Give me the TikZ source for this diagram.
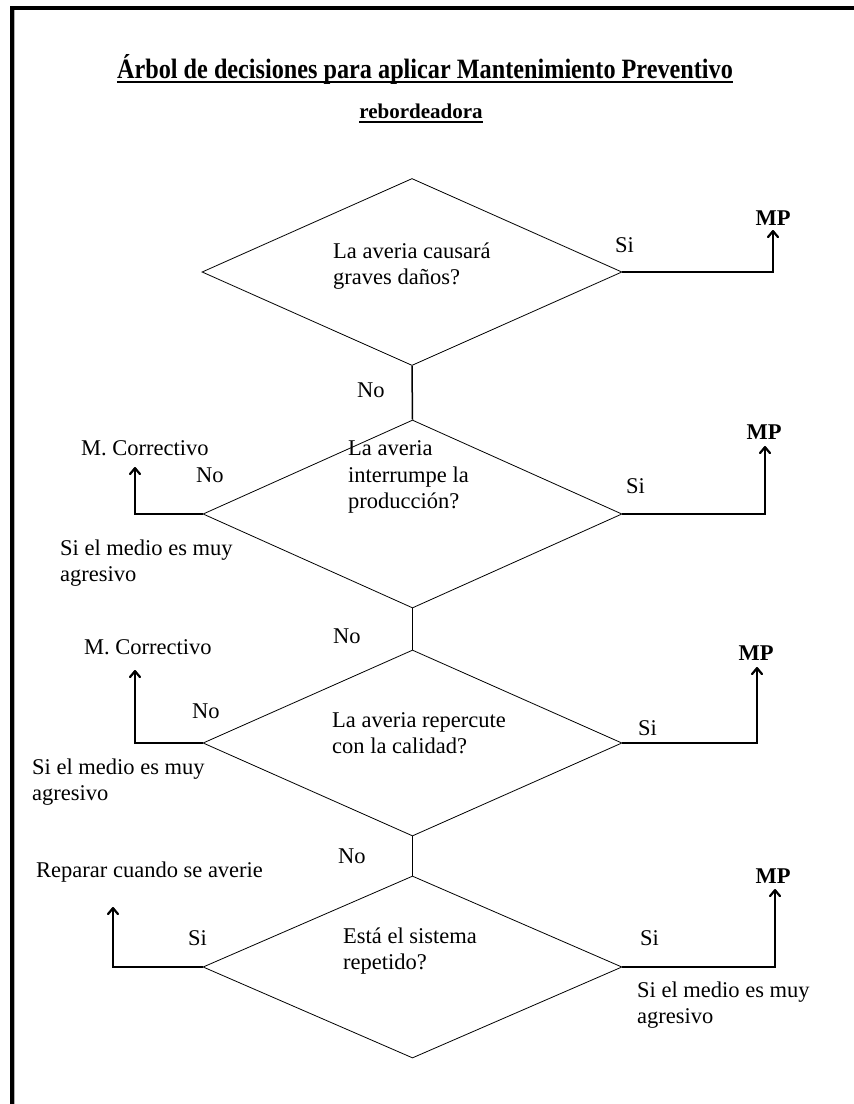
\documentclass[tikz,border=0pt]{standalone}
\usepackage{fontspec}
\setmainfont{Liberation Serif}
\usetikzlibrary{shapes.geometric,arrows.meta}
\begin{document}
\begin{tikzpicture}[x=1pt,y=-1pt,
  dia/.style={draw, shape=diamond, inner sep=0pt, line width=0.8pt},
  lbl/.style={font=\fontsize{22.5}{26.5}\selectfont, inner sep=0pt, anchor=west, align=left},
  mp/.style={font=\fontsize{22.5}{26}\selectfont\bfseries, inner sep=0pt},
  link/.style={line width=1.5pt},
  arr/.style={line width=1.5pt, -{Straight Barb[length=6pt,width=10pt,line width=2.2pt,round]}},
  frame/.style={line width=4pt}]
\useasboundingbox (0,0) rectangle (854,1104);
% frame
\coordinate (f1) at (854,8);
\coordinate (f2) at (12,8);
\coordinate (f3) at (12,1104);
\draw[black!30, line width=1pt] (14.5,10) -- (14.5,1104);
\draw[frame] (f1) -- (f2) -- (f3);
% title
\node[inner sep=0pt, anchor=base, font=\fontsize{28}{32}\selectfont\bfseries] (title) at (425,78)
  {\scalebox{0.865}[1]{Árbol de decisiones para aplicar Mantenimiento Preventivo}};
\draw[line width=2pt] ([yshift=-4pt]title.base west) -- ([yshift=-4pt]title.base east);
\node[inner sep=0pt, anchor=base, font=\fontsize{21}{24}\selectfont\bfseries] (sub) at (421,118) {rebordeadora};
\draw[line width=1.6pt] ([yshift=-4pt]sub.base west) -- ([yshift=-4pt]sub.base east);
% diamonds
\node[dia, minimum width=420pt, minimum height=187pt] (d1) at (412,272) {};
\node[dia, minimum width=419pt, minimum height=188pt] (d2) at (412.5,514) {};
\node[dia, minimum width=419pt, minimum height=186pt] (d3) at (412.5,743) {};
\node[dia, minimum width=419pt, minimum height=182pt] (d4) at (412.5,967) {};
% diamond texts
\node[lbl] (t1) at (333,266) {La averia causará\\graves daños?};
\node[lbl] (t2) at (348,477) {La averia\\interrumpe la\\producción?};
\node[lbl] (t3) at (332,733) {La averia repercute\\con la calidad?};
\node[lbl] (t4) at (343,951) {Está el sistema\\repetido?};
% vertical links
\draw[link] (d1.south) -- (d2.north);
\draw[link] (d2.south) -- (d3.north);
\draw[link] (d3.south) -- (d4.north);
\node[lbl] (no1) at (357,390) {No};
\node[lbl] (no2) at (333,636) {No};
\node[lbl] (no3) at (338,856) {No};
% right branches
\coordinate (r1) at (773,230);
\coordinate (r2) at (765,446);
\coordinate (r3) at (757,667);
\coordinate (r4) at (775,889);
\node[mp] (mp1) at (773,218) {MP};
\node[mp] (mp2) at (764,432) {MP};
\node[mp] (mp3) at (756,653) {MP};
\node[mp] (mp4) at (773,876) {MP};
\draw[arr] (d1.east) -| (r1);
\draw[arr] (d2.east) -| (r2);
\draw[arr] (d3.east) -| (r3);
\draw[arr] (d4.east) -| (r4);
\node[lbl] (si1) at (615,245) {Si};
\node[lbl] (si2) at (626,486) {Si};
\node[lbl] (si3) at (638,728) {Si};
\node[lbl] (si4) at (640,938) {Si};
\node[lbl] (ag4) at (637,1005) {Si el medio es muy\\agresivo};
% left branches
\coordinate (l2) at (135,467);
\coordinate (l3) at (135,670);
\coordinate (l4) at (113,907);
\draw[arr] (d2.west) -| (l2);
\draw[arr] (d3.west) -| (l3);
\draw[arr] (d4.west) -| (l4);
\node[lbl] (mc2) at (81,448) {M. Correctivo};
\node[lbl] (mc3) at (84,647) {M. Correctivo};
\node[lbl] (rep) at (36,872) {Reparar cuando se averie};
\node[lbl] (nl2) at (196,475) {No};
\node[lbl] (nl3) at (192,711) {No};
\node[lbl] (sl4) at (188,938) {Si};
\node[lbl] (ag2) at (60,563) {Si el medio es muy\\agresivo};
\node[lbl] (ag3) at (32,782) {Si el medio es muy\\agresivo};
\end{tikzpicture}
\end{document}
